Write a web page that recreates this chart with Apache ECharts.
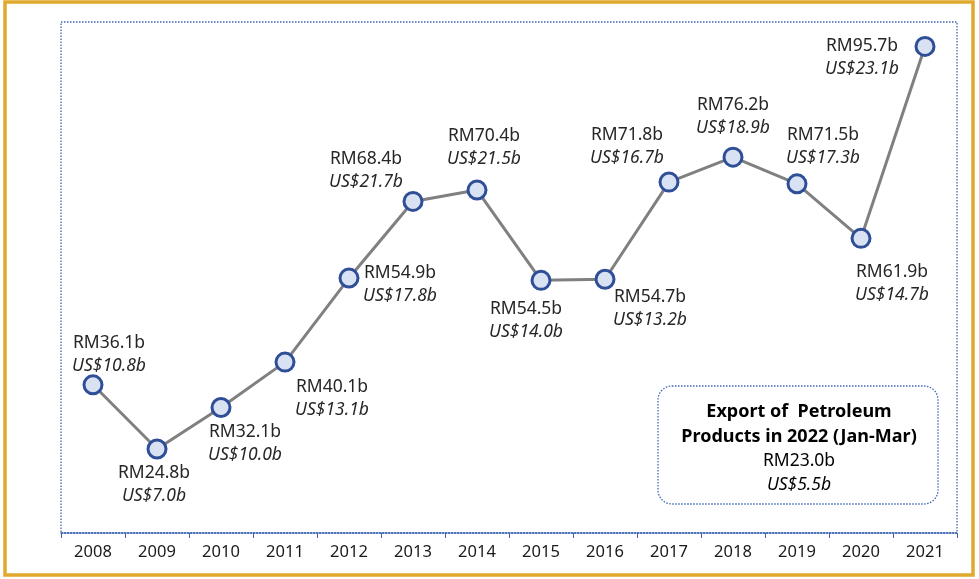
<!DOCTYPE html>
<html>
<head>
<meta charset="utf-8">
<script src="https://cdn.jsdelivr.net/npm/echarts@6/dist/echarts.min.js"></script>
<style>
  html, body { margin: 0; padding: 0; background: #fff; }
  #chart { width: 979px; height: 579px; }
</style>
</head>
<body>
<div id="chart"></div>
<script>
const years = ['2008', '2009', '2010', '2011', '2012', '2013', '2014', '2015', '2016', '2017', '2018', '2019', '2020', '2021'];
const rmValues = [36.1, 24.8, 32.1, 40.1, 54.9, 68.4, 70.4, 54.5, 54.7, 71.8, 76.2, 71.5, 61.9, 95.7];
const usdValues = [10.8, 7.0, 10.0, 13.1, 17.8, 21.7, 21.5, 14.0, 13.2, 16.7, 18.9, 17.3, 14.7, 23.1];

// label placement around each marker (layout only)
const labelOffsets = [
  [16, -30], [-3, 36], [24, 36], [47, 36], [51, 6], [-47, -31], [7, -43],
  [-15, 40], [45, 29], [-42, -36], [0, -41], [26, -37], [31, 45], [-63, 11]
];

const FONT = 'Noto Sans';

const chart = echarts.init(document.getElementById('chart'));

const seriesData = rmValues.map((v, i) => ({
  value: v,
  label: {
    offset: labelOffsets[i],
    formatter: '{a|RM' + v.toFixed(1) + 'b}\n{b|US$' + usdValues[i].toFixed(1) + 'b}'
  }
}));

chart.setOption({
  animation: false,
  grid: {
    left: 61, right: 22, top: 22, bottom: 46,
    show: true,
    borderColor: '#3D64B0',
    borderWidth: 1.3,
    borderType: [1.5, 1.5]
  },
  xAxis: {
    type: 'category',
    data: years,
    boundaryGap: true,
    axisLine: { lineStyle: { color: '#3D64B0', type: [1.5, 1.5], width: 1.5 } },
    axisTick: { show: true, length: 5, lineStyle: { color: '#3D64B0' } },
    axisLabel: { color: '#1a1a1a', fontFamily: FONT, fontSize: 16.5, margin: 11 }
  },
  yAxis: {
    type: 'value',
    min: 10,
    max: 100,
    show: false,
    splitLine: { show: false }
  },
  series: [{
    type: 'line',
    data: seriesData,
    symbol: 'circle',
    symbolSize: 18,
    lineStyle: { color: '#808080', width: 3 },
    itemStyle: { color: '#D9E2F3', borderColor: '#2E4E98', borderWidth: 3 },
    label: {
      show: true,
      position: 'inside',
      align: 'center',
      verticalAlign: 'middle',
      lineHeight: 23,
      rich: {
        a: { fontFamily: FONT, fontSize: 17.5, color: '#262626', lineHeight: 23 },
        b: { fontFamily: FONT, fontSize: 17.5, color: '#262626', fontStyle: 'italic', lineHeight: 23 }
      }
    },
    emphasis: { disabled: true }
  }],
  graphic: [
    {
      type: 'rect',
      shape: { x: 5, y: 2, width: 968, height: 573 },
      style: { fill: 'none', stroke: '#E0A92D', lineWidth: 3.5 },
      silent: true
    },
    {
      type: 'rect',
      shape: { x: 658, y: 386, width: 280, height: 118, r: 14 },
      style: { fill: '#fff', stroke: '#3F67B5', lineWidth: 1.3, lineDash: [1.5, 1.5] },
      silent: true
    },
    {
      type: 'text',
      x: 799, y: 399,
      style: {
        text: '{h|Export of  Petroleum}\n{h|Products in 2022 (Jan-Mar)}\n{a|RM23.0b}\n{b|US$5.5b}',
        align: 'center',
        verticalAlign: 'top',
        rich: {
          h: { fontFamily: FONT, fontSize: 18, fontWeight: 'bold', color: '#111', lineHeight: 25 },
          a: { fontFamily: FONT, fontSize: 17.5, color: '#262626', lineHeight: 24 },
          b: { fontFamily: FONT, fontSize: 17.5, color: '#262626', fontStyle: 'italic', lineHeight: 24 }
        }
      },
      silent: true
    }
  ]
});
</script>
</body>
</html>
